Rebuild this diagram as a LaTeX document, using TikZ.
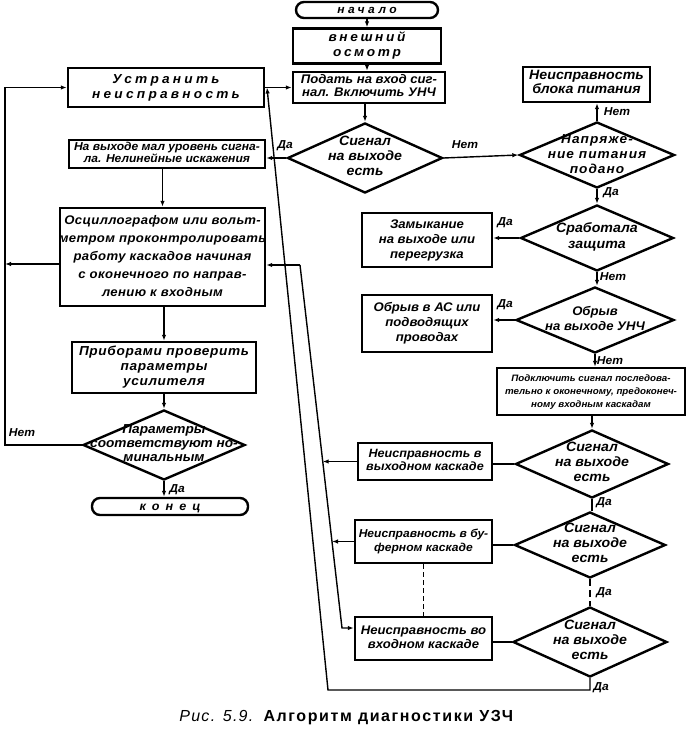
\documentclass[tikz,border=0pt]{standalone}
\usepackage{fontspec}
\usetikzlibrary{shapes.geometric,arrows.meta,calc}
\newfontfamily\hwf[FakeStretch=1.05]{Liberation Sans}
\newcommand{\hw}{\hwf\bfseries\itshape}
\newfontfamily\capf{Liberation Sans}
\newcommand{\zt}[1]{\makebox[0pt]{\smash{\raisebox{-3pt}{\begin{tabular}{@{}c@{}}#1\end{tabular}}}}}
\newcommand{\zs}[1]{\makebox[0pt]{\smash{\raisebox{-4.5pt}{\begin{tabular}{@{}c@{}}#1\end{tabular}}}}}
\newcommand{\fz}[2]{\fontsize{#1}{#2}\selectfont}
\tikzset{
  box/.style={draw, line width=2.4pt, inner sep=0pt},
  tbox/.style={box, rounded corners=8pt},
  dia/.style={draw, diamond, line width=2.4pt, inner sep=0pt},
  lab/.style={font=\hw\fz{11.5}{12}, inner sep=0pt},
  conn/.style={line width=1.4pt},
  arr/.style={conn, -{Latex[length=6pt,width=4.5pt]}},
}
\begin{document}
\begin{tikzpicture}[x=1pt,y=-1pt]
\useasboundingbox (0,0) rectangle (700,736);
% main column
\node[tbox, minimum width=142, minimum height=16, font={\hw\fz{11.5}{12}\addfontfeature{LetterSpace=30}}] (start) at (367,10) {\zs{начало}};
\node[box, minimum width=148, minimum height=35, font={\hw\fz{13}{14.5}\addfontfeature{LetterSpace=20}}] (osm) at (367,46) {\zt{внешний\\осмотр}};
\node[box, minimum width=152, minimum height=31, font={\hw\fz{12.5}{13.5}}] (podat) at (369,87.5) {\zt{Подать на вход сиг-\\нал. Включить УНЧ}};
\node[dia, minimum width=155, minimum height=70, font={\hw\fz{13.5}{15}}] (d1) at (365,158) {\zt{Сигнал\\на выходе\\есть}};
% left column
\node[box, minimum width=196, minimum height=39, font={\hw\fz{13}{15}\addfontfeature{LetterSpace=25}}] (ustr) at (166,87.5) {\zt{Устранить\\неисправность}};
\node[box, minimum width=196, minimum height=28, font={\hw\fz{11.5}{12}}] (mal) at (167,154) {\zt{На выходе мал уровень сигна-\\ла. Нелинейные искажения}};
\node[box, minimum width=205, minimum height=98, font={\hw\fz{12.5}{18}\addfontfeature{LetterSpace=3}}] (osc) at (162.5,257) {\zt{Осциллографом или вольт-\\метром проконтролировать\\работу каскадов начиная\\с оконечного по направ-\\лению к входным}};
\node[box, minimum width=184, minimum height=51, font={\hw\fz{13}{15}\addfontfeature{LetterSpace=5}}] (prib) at (164,367.5) {\zt{Приборами проверить\\параметры\\усилителя}};
\node[dia, minimum width=162, minimum height=70, font={\hw\fz{13}{14}}] (dpar) at (164,445) {\zt{Параметры\\соответствуют но-\\минальным}};
\node[tbox, minimum width=156, minimum height=17, font={\hw\fz{12}{12}\addfontfeature{LetterSpace=50}}] (kon) at (170,506.5) {\zs{конец}};
% right column
\node[box, minimum width=127, minimum height=35, font={\hw\fz{13.5}{14}}] (bp) at (586.5,84.5) {\zt{Неисправность\\блока питания}};
\node[dia, minimum width=155, minimum height=66, font={\hw\fz{13}{15}\addfontfeature{LetterSpace=8}}] (dnap) at (597,155) {\zt{Напряже-\\ние питания\\подано}};
\node[dia, minimum width=153, minimum height=66, font={\hw\fz{13.5}{15.5}}] (dzash) at (597,238) {\zt{Сработала\\защита}};
\node[box, minimum width=130, minimum height=54, font={\hw\fz{12.5}{15}}] (zam) at (427,240) {\zt{Замыкание\\на выходе или\\перегрузка}};
\node[dia, minimum width=158, minimum height=66, font={\hw\fz{12.5}{15}}] (dobr) at (595,320) {\zt{Обрыв\\на выходе УНЧ}};
\node[box, minimum width=130, minimum height=57, font={\hw\fz{12.5}{15}}] (obr) at (427,323.5) {\zt{Обрыв в АС или\\подводящих\\проводах}};
\node[box, minimum width=188, minimum height=47, font={\hw\fz{9.3}{13}}] (podk) at (591,391.5) {\zt{Подключить сигнал последова-\\тельно к оконечному, предоконеч-\\ному входным каскадам}};
\node[dia, minimum width=153, minimum height=68, font={\hw\fz{13.5}{15}}] (d2) at (592,464) {\zt{Сигнал\\на выходе\\есть}};
\node[box, minimum width=134, minimum height=37, font={\hw\fz{12}{13.5}}] (vyh) at (425,461.5) {\zt{Неисправность в\\выходном каскаде}};
\node[dia, minimum width=151, minimum height=66, font={\hw\fz{13.5}{15}}] (d3) at (590,545) {\zt{Сигнал\\на выходе\\есть}};
\node[box, minimum width=137, minimum height=43, font={\hw\fz{11.5}{14}}] (buf) at (423.5,541.5) {\zt{Неисправность в бу-\\ферном каскаде}};
\node[dia, minimum width=154, minimum height=70, font={\hw\fz{13.5}{15}}] (d4) at (590,642) {\zt{Сигнал\\на выходе\\есть}};
\node[box, minimum width=137, minimum height=43, font={\hw\fz{12.5}{14}}] (vh) at (423.5,638.5) {\zt{Неисправность во\\входном каскаде}};
% labels
\node[lab] (l1) at (285,146) {Да};
\node[lab] (l2) at (465,145) {Нет};
\node[lab] (l3) at (617,112) {Нет};
\node[lab] (l4) at (611,193) {Да};
\node[lab] (l5) at (505,223) {Да};
\node[lab] (l6) at (613,277) {Нет};
\node[lab] (l7) at (505,305) {Да};
\node[lab] (l8) at (610,361) {Нет};
\node[lab] (l9) at (604,503) {Да};
\node[lab] (l10) at (604,593) {Да};
\node[lab] (l11) at (601,688) {Да};
\node[lab] (l12) at (22,433) {Нет};
\node[lab] (l13) at (177,490) {Да};
% caption
\node[font={\capf\fz{16}{18}}, inner sep=0pt] (cap) at (347,718) {\textit{\addfontfeature{LetterSpace=8}Рис. 5.9.}\ \ \textbf{\addfontfeature{LetterSpace=10}Алгоритм диагностики УЗЧ}};
% coordinates
\coordinate (LB) at (5,445);
\coordinate (LT) at (5,87.5);
\coordinate (LM) at (5,264);
\coordinate (J1) at (267,87.5);
\coordinate (B1) at (328,690);
\coordinate (B0) at (590,690);
\coordinate (K1) at (300,265);
\coordinate (K2) at (342,628);
\coordinate (K3) at (322.7,461.5);
\coordinate (K4) at (332,541.5);
% main column connectors
\draw[arr] (start.south) -- (start.south |- osm.north);
\draw[arr] (osm.south) -- (osm.south |- podat.north);
\draw[arr] (podat.south -| d1.north) -- (d1.north);
\draw[arr] (d1.west) -- (mal.east |- d1.west);
\draw[arr] (d1.east) -- (dnap.west);
\draw[arr] (dnap.north) -- (dnap.north |- bp.south);
\draw[arr] (dnap.south) -- (dzash.north);
\draw[arr] (dzash.west) -- (zam.east |- dzash.west);
\draw[arr] (dzash.south) -- (dzash.south |- dobr.north);
\draw[arr] (dobr.west) -- (obr.east |- dobr.west);
\draw[arr] (dobr.south) -- (dobr.south |- podk.north);
\draw[arr] (podk.south -| d2.north) -- (d2.north);
\draw[conn] (d2.west) -- (vyh.east |- d2.west);
\draw[conn] (d2.south) -- (d2.south |- d3.north);
\draw[conn] (d3.west) -- (buf.east |- d3.west);
\draw[conn, dash pattern=on 7pt off 4pt] (d3.south) -- (d4.north);
\draw[conn] (d4.west) -- (vh.east |- d4.west);
\draw[conn, dash pattern=on 5pt off 3pt] (buf.south) -- (buf.south |- vh.north);
% left column connectors
\draw[arr] (osc.north |- mal.south) -- (osc.north);
\draw[arr] (prib.north |- osc.south) -- (prib.north);
\draw[arr] (prib.south) -- (dpar.north);
\draw[arr] (dpar.south) -- (dpar.south |- kon.north);
\draw[arr] (dpar.west) -- (LB) -- (LT) -- (ustr.west);
\draw[arr] (osc.west |- LM) -- (LM);
\draw[arr] (ustr.east) -- (podat.west);
\draw[arr] (d4.south) -- (B0) -- (B1) -- (J1);
\draw[arr] (K1) -- (osc.east |- K1);
\draw[arr] (K1) -- (K2) -- (vh.west |- K2);
\draw[arr] (vyh.west) -- (K3);
\draw[arr] (buf.west) -- (K4);
\end{tikzpicture}
\end{document}
